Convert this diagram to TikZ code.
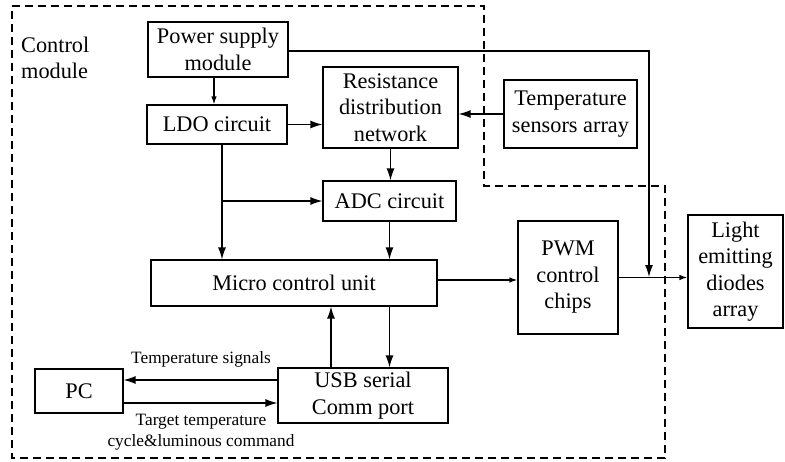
\documentclass[tikz,border=0pt]{standalone}
\usepackage{fontspec}
\setmainfont{Liberation Serif}
\usetikzlibrary{arrows.meta,calc}
\begin{document}
\begin{tikzpicture}[x=1pt,y=-1pt,
  box/.style={draw,line width=1.2pt,inner sep=0pt,align=center,font=\fontsize{22.3}{26.5}\selectfont},
  arr/.style={line width=1.3pt,-{Latex[length=12pt,width=8pt]}},
  sarr/.style={line width=1.3pt,-{Latex[length=8pt,width=5.5pt]}},
  lab/.style={inner sep=0pt,align=center,font=\fontsize{17.3}{21}\selectfont}]
\useasboundingbox (0,0) rectangle (785,461);
\draw[dashed,line width=1.2pt,dash pattern=on 8pt off 5pt] (12,6) -- (484,6) -- (484,186) -- (665,186) -- (665,458) -- (12,458) -- cycle;
\node[lab,font=\fontsize{22.3}{26.5}\selectfont,align=left,anchor=west] (cm) at (21,58) {Control\\module};
\node[box,minimum width=140pt,minimum height=55pt] (power) at (218,49.5) {Power supply\\module};
\node[box,minimum width=140pt,minimum height=39pt] (ldo) at (217,124.5) {LDO circuit};
\node[box,minimum width=135pt,minimum height=81pt] (res) at (390.5,107.5) {Resistance\\distribution\\network};
\node[box,minimum width=133pt,minimum height=68pt] (temp) at (570.5,114) {Temperature\\sensors array};
\node[box,minimum width=133pt,minimum height=40pt] (adc) at (389.5,201) {ADC circuit};
\node[box,minimum width=286pt,minimum height=46pt] (mcu) at (294,283) {Micro control unit};
\node[box,minimum width=100pt,minimum height=113pt] (pwm) at (568,277.5) {PWM\\control\\chips};
\node[box,minimum width=95pt,minimum height=113pt] (led) at (735.5,271.5) {Light\\emitting\\diodes\\array};
\node[box,minimum width=170pt,minimum height=55pt] (usb) at (363,395.5) {USB serial\\Comm port};
\node[box,minimum width=88pt,minimum height=44pt] (pc) at (79,391) {PC};
\coordinate (j) at (649,277);
\coordinate (b) at (222,201);
\draw[sarr] ($(power.south)+(-4,0)$) -- ($(ldo.north)+(-3,0)$);
\draw[arr] (ldo.east) -- (ldo.east -| res.west);
\draw[arr] (temp.west) -- (temp.west -| res.east);
\draw[arr] ($(power.east)+(0,1.5)$) -| (j);
\draw[arr] (res.south) -- (res.south |- adc.north);
\draw[arr] (b |- ldo.south) -- (b |- mcu.north);
\draw[arr] (b) -- (adc.west);
\draw[arr] (adc.south) -- (adc.south |- mcu.north);
\draw[sarr] ($(mcu.east)+(0,-3)$) -- ($(mcu.east -| pwm.west)+(0,-3)$);
\draw[sarr] (pwm.east) -- (pwm.east -| led.west);
\draw[arr] (mcu.south -| adc.south) -- (usb.north -| adc.south);
\draw[arr] ($(usb.north)+(-32,0)$) -- ($(usb.north |- mcu.south)+(-32,0)$);
\draw[arr] ($(usb.west)+(0,-15.5)$) -- ($(usb.west -| pc.east)+(0,-15.5)$);
\draw[arr] ($(pc.east)+(0,12)$) -- ($(pc.east -| usb.west)+(0,12)$);
\node[lab] (ts) at (201,359) {Temperature signals};
\node[lab] (tt) at (201,432) {Target temperature\\cycle\&luminous command};
\end{tikzpicture}
\end{document}
